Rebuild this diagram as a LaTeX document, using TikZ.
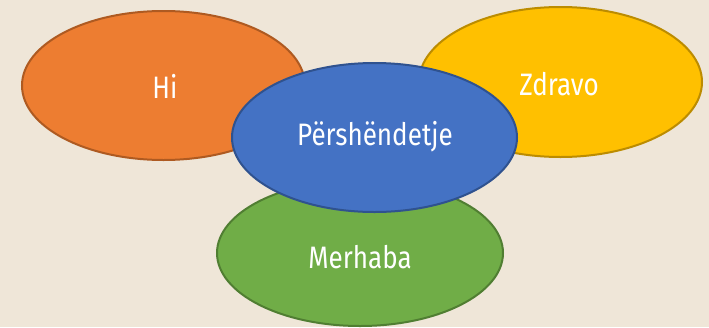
\documentclass[tikz,border=0pt]{standalone}
\usepackage{fontspec}
\setmainfont{Fira Sans}
\usetikzlibrary{shapes.geometric}
\definecolor{bg}{HTML}{EFE6D8}
\definecolor{orF}{HTML}{ED7D31}\definecolor{orD}{HTML}{AE5A21}
\definecolor{yeF}{HTML}{FFC000}\definecolor{yeD}{HTML}{BC8C00}
\definecolor{grF}{HTML}{70AD47}\definecolor{grD}{HTML}{507E32}
\definecolor{blF}{HTML}{4472C4}\definecolor{blD}{HTML}{2F528F}
\tikzset{
  blob/.style={ellipse, line width=2pt, inner sep=0pt},
  word/.style={text=white, font=\fontsize{31}{34}\selectfont, xscale=0.84, inner sep=0pt}
}
\begin{document}
\begin{tikzpicture}[x=1pt,y=-1pt]
\fill[bg] (0,0) rectangle (709,327);
\useasboundingbox (0,0) rectangle (709,327);
\node[blob, fill=orF, draw=orD, minimum width=283pt, minimum height=149pt] (hi) at (163.5,85.5) {};
\node[blob, fill=yeF, draw=yeD, minimum width=283pt, minimum height=150pt] (zd) at (560.5,82) {};
\node[blob, fill=grF, draw=grD, minimum width=286pt, minimum height=146pt] (me) at (360,253) {};
\node[blob, fill=blF, draw=blD, minimum width=285pt, minimum height=149pt] (pe) at (374.5,137.5) {};
\node[word] (thi) at (165,86) {Hi};
\node[word] (tzd) at (559,84) {Zdravo};
\node[word] (tpe) at (375,137) {Përshëndetje};
\node[word] (tme) at (360,257) {Merhaba};
\end{tikzpicture}
\end{document}
